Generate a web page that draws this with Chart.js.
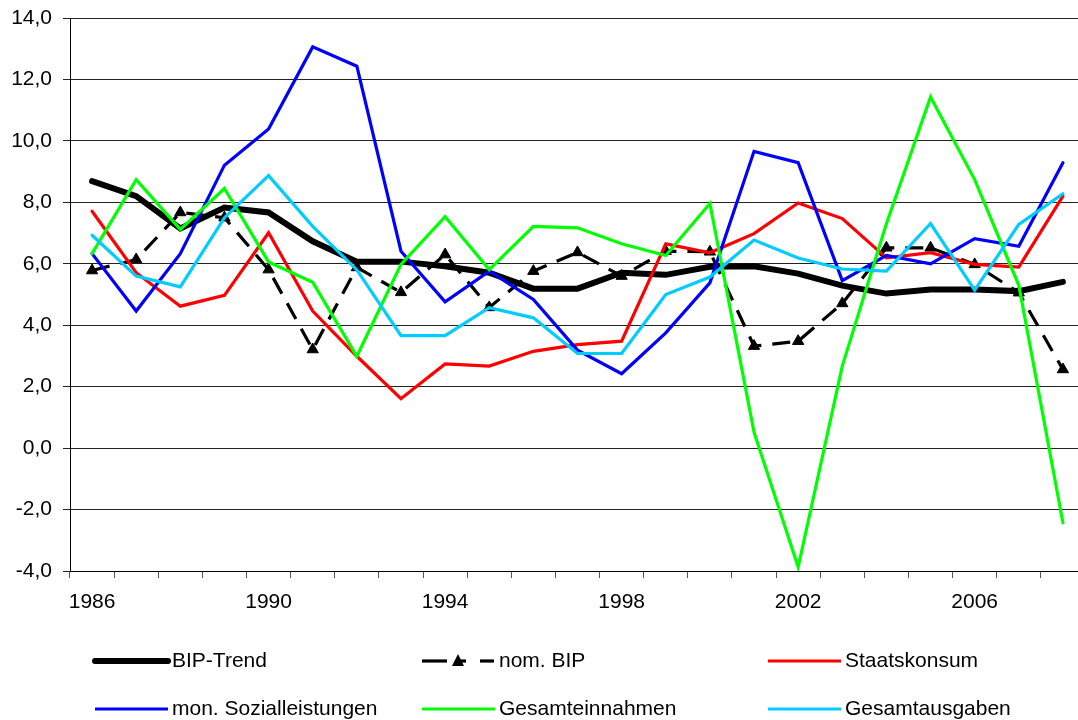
<!DOCTYPE html>
<html>
<head>
<meta charset="utf-8">
<script src="https://cdn.jsdelivr.net/npm/chart.js@4/dist/chart.umd.min.js"></script>
<style>
html,body{margin:0;padding:0;background:#fff;overflow:hidden;}
#wrap{width:1078px;height:720px;overflow:hidden;position:relative;}
canvas{display:block;}
</style>
</head>
<body>
<div id="wrap"><canvas id="c" width="1100" height="720"></canvas></div>
<script>
// ---- data ----
const years = ['1986','1987','1988','1989','1990','1991','1992','1993','1994','1995','1996','1997','1998','1999','2000','2001','2002','2003','2004','2005','2006','2007','2008'];
const bipTrend      = [8.69,8.20,7.15,7.83,7.67,6.73,6.07,6.07,5.92,5.71,5.19,5.19,5.71,5.64,5.90,5.92,5.68,5.29,5.03,5.16,5.16,5.11,5.41];
const nomBIP        = [5.78,6.14,7.67,7.50,5.81,3.21,5.88,5.07,6.30,4.58,5.76,6.37,5.60,6.41,6.39,3.32,3.48,4.71,6.52,6.52,5.98,5.06,2.56];
const staatskonsum  = [7.71,5.71,4.62,4.97,7.01,4.46,2.99,1.61,2.74,2.67,3.15,3.37,3.48,6.65,6.36,6.98,7.98,7.47,6.19,6.36,5.98,5.89,8.20];
const sozialleist   = [6.33,4.46,6.33,9.21,10.39,13.06,12.43,6.41,4.76,5.76,4.84,3.19,2.42,3.75,5.38,9.66,9.29,5.45,6.27,6.00,6.82,6.57,9.29];
const einnahmen     = [6.33,8.74,7.12,8.45,6.06,5.40,2.99,5.98,7.53,5.81,7.22,7.17,6.65,6.27,7.96,0.52,-3.87,2.67,7.30,11.43,8.74,5.30,-2.43];
const ausgaben      = [6.93,5.60,5.25,7.50,8.87,7.22,5.80,3.66,3.66,4.57,4.24,3.08,3.08,5.00,5.57,6.77,6.19,5.83,5.76,7.31,5.14,7.28,8.28];
const seriesNames   = ['BIP-Trend','nom. BIP','Staatskonsum','mon. Sozialleistungen','Gesamteinnahmen','Gesamtausgaben'];
const yMin = -4, yMax = 14, yStep = 2;

const FONT = '"Liberation Sans", Arial, sans-serif';

const base = {fill:false, tension:0, pointRadius:0, pointHoverRadius:0, borderWidth:3.2, borderCapStyle:'round', borderJoinStyle:'miter'};
const datasets = [
  Object.assign({}, base, {label:seriesNames[0], data:bipTrend, borderColor:'#000000', borderWidth:6, order:6}),
  Object.assign({}, base, {label:seriesNames[1], data:nomBIP, borderColor:'#000000', borderDash:[18,11], borderCapStyle:'butt',
      pointStyle:'triangle', pointRadius:6.5, pointBackgroundColor:'#000', pointBorderColor:'#000', pointBorderWidth:1, order:5}),
  Object.assign({}, base, {label:seriesNames[2], data:staatskonsum, borderColor:'#FF0000', order:4}),
  Object.assign({}, base, {label:seriesNames[3], data:sozialleist, borderColor:'#0000FF', order:3}),
  Object.assign({}, base, {label:seriesNames[4], data:einnahmen, borderColor:'#00FF00', order:2}),
  Object.assign({}, base, {label:seriesNames[5], data:ausgaben, borderColor:'#00CCFF', order:1})
];

const legendCols = [95, 422, 768];
const legendRows = [661, 709];
const sampleLen = 73;

const customLegend = {
  id:'customLegend',
  afterDraw(chart){
    const ctx = chart.ctx;
    const ds = chart.data.datasets;
    ctx.save();
    ds.forEach((d,i)=>{
      const col = i % 3, row = Math.floor(i/3);
      const x = legendCols[col], y = legendRows[row];
      ctx.strokeStyle = d.borderColor;
      ctx.lineWidth = d.borderWidth;
      ctx.lineCap = d.borderWidth >= 5 ? 'round' : 'butt';
      if (d.borderDash) {
        ctx.lineCap = 'butt';
        ctx.beginPath(); ctx.moveTo(x, y); ctx.lineTo(x+25, y); ctx.stroke();
        ctx.beginPath(); ctx.moveTo(x+58, y); ctx.lineTo(x+72, y); ctx.stroke();
        ctx.beginPath(); ctx.moveTo(x+36, y); ctx.lineTo(x+44, y); ctx.stroke();
        ctx.fillStyle = '#000';
        ctx.beginPath();
        ctx.moveTo(x+36, y-7); ctx.lineTo(x+42, y+5); ctx.lineTo(x+30, y+5); ctx.closePath(); ctx.fill();
      } else {
        ctx.beginPath(); ctx.moveTo(x, y); ctx.lineTo(x+sampleLen, y); ctx.stroke();
      }
      ctx.fillStyle = '#000';
      ctx.font = '21px ' + FONT;
      ctx.textBaseline = 'middle';
      ctx.textAlign = 'left';
      ctx.fillText(d.label, x + sampleLen + 4, y);
    });
    ctx.restore();
  }
};

new Chart(document.getElementById('c'), {
  type:'line',
  data:{labels:years, datasets},
  options:{
    responsive:false,
    animation:false,
    devicePixelRatio:1,
    layout:{padding:{top:18, right:15, bottom:109, left:0}},
    plugins:{legend:{display:false}, tooltip:{enabled:false}},
    scales:{
      x:{
        type:'category',
        offset:true,
        afterFit(s){ s.height = 40; s.paddingLeft = 0; s.paddingRight = 0; },
        grid:{display:true, drawOnChartArea:false, drawTicks:true, tickLength:7, color:'#555', offset:true},
        border:{display:true, color:'#000'},
        ticks:{autoSkip:false, maxRotation:0, minRotation:0, padding:12, color:'#000',
          font:{family:FONT, size:21},
          callback(v, i){ return i % 4 === 0 ? years[i] : ''; }}
      },
      y:{
        min:yMin, max:yMax,
        afterFit(s){ s.width = 70; s.paddingTop = 0; s.paddingBottom = 0; },
        grid:{color:'#222', lineWidth:1, tickLength:7},
        border:{display:true, color:'#000'},
        ticks:{stepSize:yStep, padding:11, color:'#000', font:{family:FONT, size:21},
          callback(v){ return v.toFixed(1).replace('.', ','); }}
      }
    }
  },
  plugins:[customLegend]
});
</script>
</body>
</html>
